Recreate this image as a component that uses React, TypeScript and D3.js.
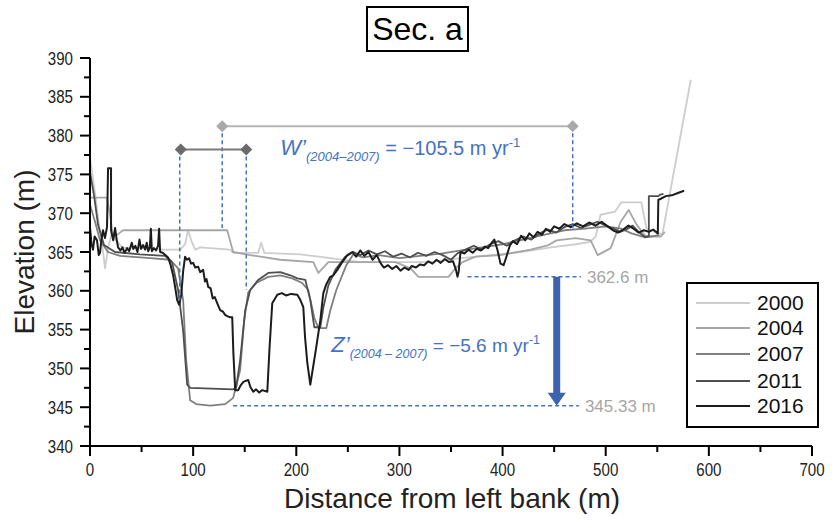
import React from "react";
import * as d3 from "d3";

type P = [number, number];

const W = 832;
const H = 526;
const FONT = "'Liberation Sans', Arial, Helvetica, sans-serif";

const years = ["2000", "2004", "2007", "2011", "2016"];
const colors = ["#cdcdcd", "#a6a6a6", "#7f7f7f", "#4f4f4f", "#1c1c1c"];
const xTicks = [0, 100, 200, 300, 400, 500, 600, 700];
const yTicks = [340, 345, 350, 355, 360, 365, 370, 375, 380, 385, 390];

const s2000: P[] = [
  [0, 377.1], [2.9, 374.5], [5.8, 371.7], [8.7, 368.5], [11.7, 366.0], [14.6, 362.9], [17.5, 365.5],
  [21.4, 367.6], [25.2, 366.5], [31.1, 365.6], [48.5, 365.5], [68, 365.3], [87.4, 365.3], [92.2, 366.0],
  [95.1, 367.8], [98.1, 366.5], [102, 365.3], [106.8, 365.6], [135.9, 365.3], [138.8, 364.9], [163.1, 364.9],
  [166, 366.2], [168.9, 364.9], [203.9, 364.7], [233, 364.2], [262.1, 363.7], [300, 363.7], [330, 363.7],
  [359.5, 364.2], [388.6, 364.6], [417.7, 365.0], [446.8, 365.6], [471, 366.0], [485, 366.3], [490.3, 367.0],
  [495, 369.8], [509, 370.2], [515.1, 371.4], [534.5, 371.4], [539.4, 368.1], [547.1, 367.6], [555, 367.3],
  [582.5, 387.2],
];

const s2004: P[] = [
  [0, 372.0], [16.5, 372.0], [19.4, 369.8], [22.3, 366.9], [27.2, 367.3], [32, 367.8], [133, 367.8],
  [138.8, 365.0], [155.3, 364.6], [184.5, 364.0], [216.5, 363.7], [221.4, 362.3], [231.1, 363.7],
  [247.6, 363.7], [296.2, 363.7], [310.7, 362.9], [318.5, 361.8], [347.6, 361.8], [354.4, 362.9],
  [361.2, 363.7], [373.8, 364.4], [398, 364.6], [427.2, 365.3], [444.6, 365.9], [452.4, 366.5],
  [470.8, 366.8], [485.4, 366.5], [492.2, 364.6], [504.8, 365.5], [514.5, 368.9], [522.3, 370.4],
  [530.1, 368.5], [538.8, 367.0], [553.4, 367.0], [557.3, 367.6],
];

const s2007: P[] = [
  [0, 371.1], [4.9, 368.9], [9.7, 366.5], [17.5, 365.0], [29.1, 364.5], [58.3, 364.2], [77.7, 364.0],
  [85.4, 362.9], [90.3, 358.8], [93.2, 351.1], [97.1, 345.9], [102.9, 345.4], [116.5, 345.2], [131.1, 345.4],
  [138.8, 346.2], [145.6, 349.8], [149.5, 356.2], [153.4, 359.8], [161.2, 361.0], [172.8, 361.8],
  [184.5, 362.0], [196.1, 361.6], [205.8, 361.0], [211.6, 360.1], [217.5, 356.5], [221.4, 355.2],
  [229.1, 355.2], [233, 357.5], [238.8, 360.1], [248.5, 363.3], [255.3, 364.7], [265, 364.3], [280, 364.6],
  [300, 364.2], [320, 364.5], [340, 364.8], [360, 365.2], [380, 365.6], [400, 366.0], [420, 366.6],
  [440, 367.2], [460, 367.8], [480, 368.0], [500, 368.3], [515, 368.0], [525, 367.4], [535, 367.0],
  [545, 367.0], [552, 367.2],
];

const s2011: P[] = [
  [0, 375.3], [3.9, 372.3], [7.8, 368.5], [13.6, 365.9], [24.3, 365.0], [48.5, 364.7], [72.8, 364.5],
  [79.6, 363.7], [85.4, 360.1], [90.3, 354.9], [94.2, 347.9], [97.1, 347.5], [138.8, 347.3], [141.7, 347.5],
  [145.6, 351.1], [150.5, 357.5], [155.3, 360.1], [163.1, 361.4], [172.8, 362.3], [184.5, 362.4],
  [194.2, 362.0], [201, 361.6], [208.8, 361.4], [213.6, 358.8], [217.5, 355.3], [223.3, 355.3],
  [226.2, 357.8], [231.1, 360.7], [237.9, 362.7], [247.6, 364.4], [255.3, 365.0], [262, 364.6],
  [270, 365.2], [278, 364.7], [286, 365.1], [294, 364.4], [302, 364.8], [310, 364.3], [318, 364.9],
  [326, 364.5], [334, 365.0], [342, 364.6], [350, 364.0], [356, 364.8], [364, 365.3], [372, 365.8],
  [380, 365.3], [388, 366.0], [396, 366.4], [404, 365.8], [412, 366.5], [420, 367.0], [428, 366.6],
  [436, 367.4], [444, 367.9], [452, 367.5], [460, 368.2], [468, 368.6], [476, 368.1], [484, 368.5],
  [492, 368.9], [500, 368.4], [508, 368.0], [514, 367.6], [520, 367.9], [526, 368.4], [532, 367.6],
  [538, 366.9], [541.8, 367.0], [541.8, 372.2], [551, 372.2], [553, 372.4], [556, 372.5],
];

const s2016: P[] = [
  [0, 368.2], [1.5, 366], [2.9, 365.3], [4.5, 367], [6.8, 366.5], [8.5, 364.6], [9.7, 364.9], [11, 366.5],
  [12.6, 367.8], [14.5, 366.8], [16.5, 368.2], [17.5, 375.8], [20.4, 375.8], [20.4, 367.8], [22.5, 366.5],
  [24.3, 368.1], [26, 366.5], [27.2, 365.6], [29.5, 365.2], [31.5, 365.6], [33.5, 364.9], [36, 365.5],
  [38, 365.1], [40.5, 366.2], [42, 365.4], [44, 365.8], [46, 365.0], [48, 366.6], [49.5, 365.4],
  [51.5, 365.9], [53.5, 365.3], [55, 366.2], [56.5, 365.1], [58, 365.6], [59, 368.0], [60, 365.1],
  [62, 365.5], [64, 365.2], [66, 365.8], [67, 368.0], [68, 365.0], [70.5, 364.9], [73, 364.6],
  [75.7, 364.3], [78, 363.4], [80.6, 362.0], [82.5, 360.5], [84.5, 358.8], [86.5, 358.2], [88.5, 359.5],
  [90.3, 362.5], [92.2, 364.4], [94, 364.0], [96, 364.2], [98, 363.5], [100, 363.6], [102, 363.0],
  [104.9, 363.1], [106.8, 362.4], [109.7, 362.7], [111.5, 361.2], [113, 361.5], [114.6, 360.5],
  [117, 360.3], [119, 359.0], [121, 359.2], [124, 358.2], [126.2, 357.5], [129, 357.3], [131, 356.9],
  [133.5, 356.7], [135.9, 356.6], [137.9, 356.6], [139, 352], [140.8, 347.2], [143.7, 347.2],
  [146, 347.8], [149, 348.3], [153.4, 348.5], [155.5, 347.6], [158.3, 347.0], [161, 347.3], [164, 346.9],
  [167, 347.2], [171.9, 347.0], [174, 352.5], [176.7, 358.4], [181.6, 359.5], [186, 359.7], [190, 359.4],
  [195, 359.6], [201, 359.5], [204, 358.8], [206.8, 357.9], [208.5, 354], [210.7, 350.7], [213.6, 347.9],
  [215.5, 349.5], [218.5, 352.0], [223.3, 356.2], [226.2, 359.7], [229, 360.8], [233, 361.8],
  [236, 362.0], [239.8, 362.7], [244, 363.6], [249.5, 364.6], [254.4, 365.0], [258, 364.4], [262, 365.2],
  [266, 364.5], [270, 365.0], [274, 364.0], [278, 364.6], [282, 363.5], [285, 363.0], [289, 363.3],
  [293, 362.8], [297, 363.2], [301, 362.6], [305, 363.0], [309, 362.7], [312, 363.2], [316, 363.0],
  [320, 363.4], [324, 363.3], [328, 363.8], [332, 363.5], [336, 364.0], [340, 363.6], [344, 364.1],
  [348, 363.7], [352, 363.8], [355, 362.6], [356.3, 361.8], [357.5, 362.5], [359.2, 365.0], [363, 364.8],
  [367, 365.3], [371, 364.9], [375, 365.4], [379, 365.2], [383, 365.7], [386, 365.5], [389, 366.1],
  [392, 366.6], [395, 365.3], [398, 363.5], [401, 363.3], [404, 364.5], [407, 365.8], [410, 366.4],
  [414, 366.0], [418, 367.1], [422, 366.5], [426, 367.4], [430, 366.9], [434, 367.6], [438, 367.2],
  [442, 368.0], [446, 367.6], [450, 368.3], [455, 368.0], [460, 368.6], [466, 368.2], [472, 368.7],
  [478, 368.3], [484, 368.8], [490, 368.4], [496, 368.9], [502, 368.3], [507, 367.8], [512, 367.5],
  [517, 367.9], [522, 368.4], [527, 368.0], [532, 367.5], [537, 367.8], [542, 367.6], [546, 367.9],
  [550.5, 367.4], [551, 371.7], [558.3, 372.2], [564, 372.3], [570, 372.6], [576, 372.9],
];

const series: P[][] = [s2000, s2004, s2007, s2011, s2016];

// annotations (data units)
const widthBars = [
  { x0: 128.2, x1: 468, elev: 381.2, color: "#a9a9a9", lineColor: "#b4b4b4" },
  { x0: 88, x1: 151.5, elev: 378.2, color: "#6b6b6b", lineColor: "#7a7a7a" },
];
const dropLines = [
  { x: 87, top: 378.2, bottom: 358.4 },
  { x: 151.5, top: 378.2, bottom: 360.1 },
  { x: 128.2, top: 381.2, bottom: 368.1 },
  { x: 468, top: 381.2, bottom: 367.8 },
];
const levels = [
  { elev: 361.8, x0: 366, x1: 476, label: "362.6 m" },
  { elev: 345.2, x0: 138.8, x1: 474, label: "345.33 m" },
];
const arrowX = 452.5;
const textPos = { wx: 184.5, wy: 377.5, zx: 234, zy: 352.1 };

export default function App() {
  const x = d3.scaleLinear().domain([0, 700]).range([90, 812]);
  const y = d3.scaleLinear().domain([340, 390]).range([446, 58]);
  const line = d3.line<P>().x((d) => x(d[0])).y((d) => y(d[1])).curve(d3.curveLinear);

  const xMinor = d3.range(50, 700, 100);
  const yMinor = d3.range(342.5, 390, 5);
  const blue = "#4472c4";
  const diamond = (cx: number, cy: number, r: number) =>
    `M${cx},${cy - r}L${cx + r},${cy}L${cx},${cy + r}L${cx - r},${cy}Z`;

  const legendX = 687;
  const legendY = 283;
  const legendRows = [303, 328, 354, 381, 406];
  const tickW = (s: string) => s.length * 8.4;

  return (
    <svg
      width={W}
      height={H}
      style={{ position: "absolute", left: 0, top: 0, background: "#fff" }}
      fontFamily={FONT}
    >
      <rect x={0} y={0} width={W} height={H} fill="#fff" />
      {/* title */}
      <rect x={367} y={7} width={101} height={44} fill="none" stroke="#000" strokeWidth={2} />
      <text x={417.5} y={40} fontSize={32} textAnchor="middle" fill="#000">
        Sec. a
      </text>

      {/* series */}
      {series.map((s, i) => (
        <path
          key={years[i]}
          d={line(s) || ""}
          fill="none"
          stroke={colors[i]}
          strokeWidth={i === 4 ? 2 : 1.8}
          strokeLinejoin="round"
        />
      ))}

      {/* drop lines */}
      {dropLines.map((d, i) => (
        <line
          key={"dl" + i}
          x1={x(d.x)}
          x2={x(d.x)}
          y1={y(d.top)}
          y2={y(d.bottom)}
          stroke={blue}
          strokeWidth={1.5}
          strokeDasharray="4 3"
        />
      ))}

      {/* width bars */}
      {widthBars.map((b, i) => (
        <g key={"wb" + i}>
          <line x1={x(b.x0)} x2={x(b.x1)} y1={y(b.elev)} y2={y(b.elev)} stroke={b.lineColor} strokeWidth={2} />
          <path d={diamond(x(b.x0), y(b.elev), 6)} fill={b.color} />
          <path d={diamond(x(b.x1), y(b.elev), 6)} fill={b.color} />
        </g>
      ))}

      {/* levels */}
      {levels.map((l, i) => (
        <g key={"lv" + i}>
          <line
            x1={x(l.x0)}
            x2={x(l.x1)}
            y1={y(l.elev)}
            y2={y(l.elev)}
            stroke={blue}
            strokeWidth={1.5}
            strokeDasharray="4 3"
          />
          <text x={x(l.x1) + 6} y={y(l.elev) + 6} fontSize={17} fill="#a6a6a6">
            {l.label}
          </text>
        </g>
      ))}

      {/* arrow */}
      <rect
        x={x(arrowX) - 3.5}
        y={y(levels[0].elev)}
        width={7}
        height={y(levels[1].elev) - y(levels[0].elev) - 12}
        fill="#3d63ae"
      />
      <path
        d={`M${x(arrowX) - 9},${y(levels[1].elev) - 13}L${x(arrowX) + 9},${y(levels[1].elev) - 13}L${x(arrowX)},${y(levels[1].elev)}Z`}
        fill="#3d63ae"
      />

      {/* annotation texts */}
      <text x={x(textPos.wx)} y={y(textPos.wy)} fill={blue} fontSize={20}>
        <tspan fontStyle="italic" fontSize={22}>W’</tspan>
        <tspan fontStyle="italic" fontSize={13} dy={6}>(2004–2007)</tspan>
        <tspan dy={-6}> = −105.5 m yr</tspan>
        <tspan fontSize={13} dy={-8}>-1</tspan>
      </text>
      <text x={x(textPos.zx)} y={y(textPos.zy)} fill={blue} fontSize={19}>
        <tspan fontStyle="italic" fontSize={22}>Z’</tspan>
        <tspan fontStyle="italic" fontSize={12.5} dy={6}>(2004 – 2007)</tspan>
        <tspan dy={-6}> = −5.6 m yr</tspan>
        <tspan fontSize={12.5} dy={-8}>-1</tspan>
      </text>

      {/* axes */}
      <line x1={90} x2={90} y1={58} y2={447} stroke="#000" strokeWidth={2} />
      <line x1={89} x2={812} y1={446} y2={446} stroke="#000" strokeWidth={2} />
      {yTicks.map((t) => (
        <g key={"yt" + t}>
          <line x1={80} x2={90} y1={y(t)} y2={y(t)} stroke="#000" strokeWidth={2} />
          <text
            x={73}
            y={y(t) + 6.5}
            fontSize={18}
            textAnchor="end"
            fill="#222"
            textLength={tickW(String(t))}
            lengthAdjust="spacingAndGlyphs"
          >
            {t}
          </text>
        </g>
      ))}
      {yMinor.map((t) => (
        <line key={"ym" + t} x1={84} x2={90} y1={y(t)} y2={y(t)} stroke="#000" strokeWidth={2} />
      ))}
      {xTicks.map((t) => (
        <g key={"xt" + t}>
          <line x1={x(t)} x2={x(t)} y1={446} y2={456} stroke="#000" strokeWidth={2} />
          <text
            x={x(t)}
            y={476}
            fontSize={18}
            textAnchor="middle"
            fill="#222"
            textLength={tickW(String(t))}
            lengthAdjust="spacingAndGlyphs"
          >
            {t}
          </text>
        </g>
      ))}
      {xMinor.map((t) => (
        <line key={"xm" + t} x1={x(t)} x2={x(t)} y1={446} y2={452} stroke="#000" strokeWidth={2} />
      ))}
      <text x={452} y={508} fontSize={28} textAnchor="middle" fill="#222">
        Distance from left bank (m)
      </text>
      <text transform="translate(34,252) rotate(-90)" fontSize={28} textAnchor="middle" fill="#222">
        Elevation (m)
      </text>

      {/* legend */}
      <rect x={legendX} y={legendY} width={131} height={144} fill="#fff" stroke="#000" strokeWidth={2} />
      {years.map((yr, i) => (
        <g key={"lg" + yr}>
          <line x1={696} x2={750} y1={legendRows[i]} y2={legendRows[i]} stroke={colors[i]} strokeWidth={2} />
          <text x={757} y={legendRows[i] + 7} fontSize={21} fill="#111">
            {yr}
          </text>
        </g>
      ))}
    </svg>
  );
}
